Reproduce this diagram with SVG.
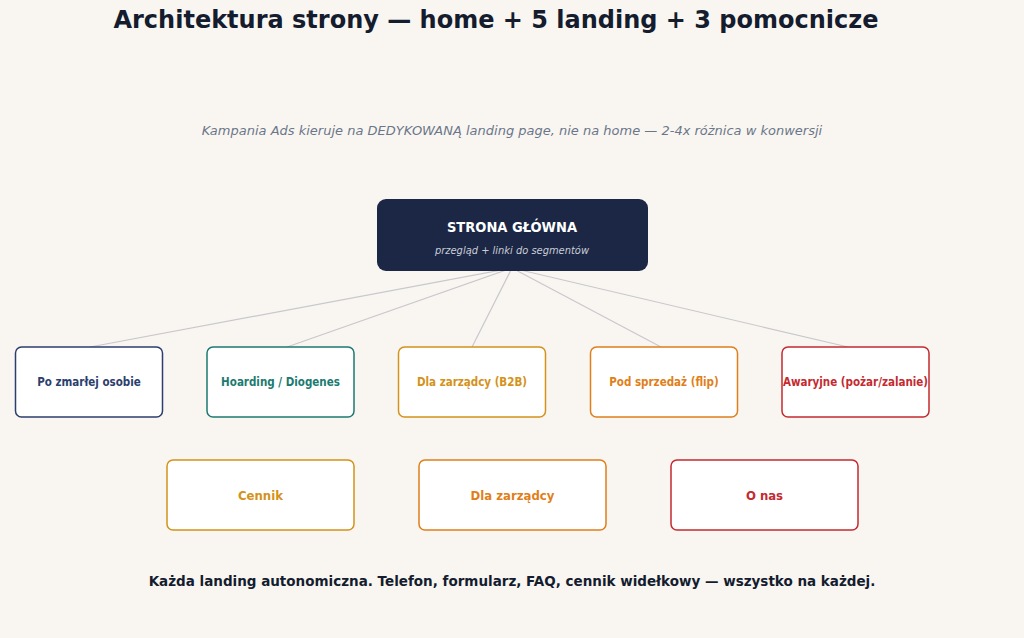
<svg xmlns="http://www.w3.org/2000/svg" width="1024" height="638" viewBox="0 0 1024 638">
<style>
.n{fill:#fff;stroke-width:1.5}
.t{font-family:"DejaVu Sans Condensed","DejaVu Sans",sans-serif;font-weight:bold;text-anchor:middle}
.s{font-size:11.5px}
.b{font-size:13px}
</style>
<rect width="1024" height="638" fill="#f9f6f2"/>
<text x="496" y="28" font-family="'DejaVu Sans',sans-serif" font-weight="bold" font-size="24" fill="#141c2e" text-anchor="middle">Architektura strony — home + 5 landing + 3 pomocnicze</text>
<text x="512" y="135" font-family="'DejaVu Sans',sans-serif" font-style="italic" font-size="13" fill="#6b7689" text-anchor="middle">Kampania Ads kieruje na DEDYKOWANĄ landing page, nie na home — 2-4x różnica w konwersji</text>
<g id="connectors" stroke="#c8c8cc" stroke-width="1.2" fill="none">
<line x1="512" y1="268" x2="90" y2="347"/>
<line x1="512" y1="268" x2="287" y2="347"/>
<line x1="512" y1="268" x2="472" y2="347"/>
<line x1="512" y1="268" x2="661" y2="347"/>
<line x1="512" y1="268" x2="848" y2="347"/>
</g>
<g id="home"><rect x="377" y="199" width="271" height="72" rx="9" fill="#1b2745"/>
<text x="512" y="232" class="t" font-size="14.5" fill="#fff">STRONA GŁÓWNA</text>
<text x="512" y="254" font-family="'DejaVu Sans Condensed','DejaVu Sans',sans-serif" font-style="italic" font-size="11" fill="#c9ccd6" text-anchor="middle">przegląd + linki do segmentów</text></g>
<g id="n1"><rect x="15.5" y="347" width="147" height="70" rx="6" class="n" stroke="#2c3e6e"/><text x="89" y="386" class="t s" fill="#2c3e6e">Po zmarłej osobie</text></g>
<g id="n2"><rect x="207" y="347" width="147" height="70" rx="6" class="n" stroke="#1c7a70"/><text x="280.5" y="386" class="t s" fill="#1c7a70">Hoarding / Diogenes</text></g>
<g id="n3"><rect x="398.5" y="347" width="147" height="70" rx="6" class="n" stroke="#d4921a"/><text x="472" y="386" class="t s" fill="#d4921a">Dla zarządcy (B2B)</text></g>
<g id="n4"><rect x="590.5" y="347" width="147" height="70" rx="6" class="n" stroke="#e07f1a"/><text x="664" y="386" class="t s" fill="#e07f1a">Pod sprzedaż (flip)</text></g>
<g id="n5"><rect x="782" y="347" width="147" height="70" rx="6" class="n" stroke="#c42a30"/><text x="855.5" y="386" class="t s" fill="#c42a30">Awaryjne (pożar/zalanie)</text></g>
<g id="p1"><rect x="167" y="460" width="187" height="70" rx="6" class="n" stroke="#d4921a"/><text x="260.5" y="499.5" class="t b" fill="#d4921a">Cennik</text></g>
<g id="p2"><rect x="419" y="460" width="187" height="70" rx="6" class="n" stroke="#e07f1a"/><text x="512.5" y="499.5" class="t b" fill="#e07f1a">Dla zarządcy</text></g>
<g id="p3"><rect x="671" y="460" width="187" height="70" rx="6" class="n" stroke="#c42a30"/><text x="764.5" y="499.5" class="t b" fill="#c42a30">O nas</text></g>
<text x="512" y="586" font-family="'DejaVu Sans',sans-serif" font-weight="bold" font-size="13.5" fill="#141c2e" text-anchor="middle">Każda landing autonomiczna. Telefon, formularz, FAQ, cennik widełkowy — wszystko na każdej.</text>
</svg>
